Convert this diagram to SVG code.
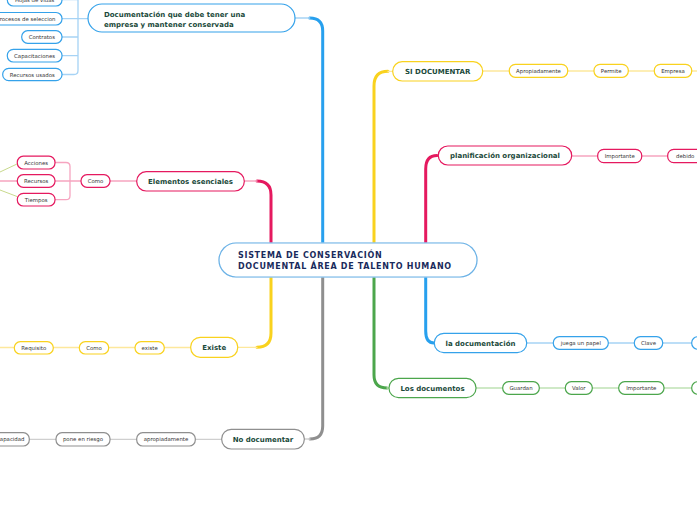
<svg xmlns="http://www.w3.org/2000/svg" width="697" height="520" viewBox="0 0 697 520">
<defs>
<marker id="arr" markerWidth="6" markerHeight="6" refX="5" refY="3" orient="auto" markerUnits="userSpaceOnUse"><path d="M0,0 L6,3 L0,6 z" fill="#c8d98c"/></marker>
<style>
.t{font-family:"DejaVu Sans",Verdana,sans-serif;font-weight:bold;font-size:7px;fill:#1b4a3b}
.s{font-family:"DejaVu Sans",Verdana,sans-serif;font-size:5.4px;fill:#333}
.c{font-family:"DejaVu Sans",Verdana,sans-serif;font-weight:bold;font-size:8px;fill:#1a2b5c;letter-spacing:0.7px}
rect{fill:#fff;stroke-width:1.2}
.b{stroke:#35a2ea}.p{stroke:#e5195f}.y{stroke:#f9d21e}.g{stroke:#4ca64c}.k{stroke:#8f8f8f}
path{fill:none;stroke-linecap:round}
.bd{stroke:#27a0ee;stroke-width:3}.pd{stroke:#e5195f;stroke-width:3}.yd{stroke:#f9d21e;stroke-width:3}.gd{stroke:#4ca64c;stroke-width:3}.kd{stroke:#8f8f8f;stroke-width:3}
.bl{stroke:#a6d3f5;stroke-width:1.3}.pl{stroke:#f6a5c0;stroke-width:1.3}.yl{stroke:#fde89c;stroke-width:1.3}.gl{stroke:#bfe2b4;stroke-width:1.3}.kl{stroke:#cfcfcf;stroke-width:1.3}
</style>
</defs>
<g id="connectors">
<path class="bd" d="M322.7,244 V31 Q322.7,18 309.7,18"/><path class="bl" d="M309.7,18 H295"/>
<path class="pd" d="M271,244 V195 Q271,181 257,181"/><path class="pl" d="M257,181 H244"/>
<path class="yd" d="M374,244 V86 Q374,71.3 388,71.3"/><path class="yl" d="M388,71.3 H392.7"/>
<path class="pd" d="M425.7,244 V169 Q425.7,155.5 437,155.5"/>
<path class="yd" d="M271,276 V333 Q271,347.3 257,347.3"/><path class="yl" d="M257,347.3 H238"/>
<path class="kd" d="M322.7,276 V426 Q322.7,439 310,439"/><path class="kl" d="M310,439 H304.3"/>
<path class="gd" d="M374,276 V375 Q374,388 387,388"/><path class="gl" d="M387,388 H389"/>
<path class="bd" d="M425.7,276 V331 Q425.7,343 434,343"/>
<path class="bl" d="M78,-2 V70.5 Q78,74.5 74,74.5 H62 M62,18.7 H88 M62,37 H78 M62,55.7 H78 M62,-0.3 H78"/>
<path class="pl" d="M55,162.5 H66 Q70,162.5 70,166.5 V195.7 Q70,199.7 66,199.7 H55 M55,181 H81 M110,181 H137"/>
<path class="pl" d="M0,181 H17"/>
<path d="M0,172 L17,164" stroke="#c8d98c" stroke-width="1" marker-end="url(#arr)"/>
<path d="M0,190 L17,196.5" stroke="#c8d98c" stroke-width="1" marker-end="url(#arr)"/>
<path class="yl" d="M0,347.5 H191"/>
<path class="kl" d="M0,439.3 H222"/>
<path class="yl" d="M482.7,71 H697"/>
<path class="pl" d="M571.7,156 H697"/>
<path class="bl" d="M526.7,343 H697"/>
<path class="gl" d="M476,388 H697"/>
</g>
<g id="central">
<rect x="219" y="243" width="258" height="34" rx="17" stroke="#d3e8f8" stroke-width="3.5"/>
<rect x="219" y="243" width="258" height="34" rx="17" stroke="#6cb2e6" stroke-width="1.2"/>
<text class="c" x="238" y="258">SISTEMA DE CONSERVACIÓN</text>
<text class="c" x="238" y="268.5">DOCUMENTAL ÁREA DE TALENTO HUMANO</text>
</g>
<g id="documentacion">
<rect class="b" x="88" y="4" width="207" height="28" rx="14"/>
<text class="t" x="104" y="17.3">Documentación que debe tener una</text>
<text class="t" x="104" y="26.7">empresa y mantener conservada</text>
</g>
<g id="hojas"><rect class="b" x="7.3" y="-6.5" width="54.7" height="12.5" rx="6"/><text class="s" x="34.6" y="1.6" text-anchor="middle">Hojas de vidas</text></g>
<g id="procesos"><rect class="b" x="-8" y="12.5" width="70" height="12.5" rx="6"/><text class="s" x="55.5" y="20.7" text-anchor="end">Procesos de seleccion</text></g>
<g id="contratos"><rect class="b" x="21.7" y="30.7" width="40.3" height="12.6" rx="6"/><text class="s" x="41.8" y="39" text-anchor="middle">Contratos</text></g>
<g id="capacitaciones"><rect class="b" x="7.3" y="49.3" width="54.7" height="12.7" rx="6"/><text class="s" x="34.6" y="57.6" text-anchor="middle">Capacitaciones</text></g>
<g id="recursos-usados"><rect class="b" x="2.7" y="68.3" width="59.3" height="12.4" rx="6"/><text class="s" x="32.3" y="76.5" text-anchor="middle">Recursos usados</text></g>
<g id="elementos"><rect class="p" x="136.7" y="171.7" width="107.6" height="19.3" rx="9.5"/><text class="t" x="190.5" y="183.8" text-anchor="middle">Elementos esenciales</text></g>
<g id="como1"><rect class="p" x="81" y="174.7" width="29" height="12.6" rx="6"/><text class="s" x="95.5" y="183" text-anchor="middle">Como</text></g>
<g id="acciones"><rect class="p" x="17.3" y="156.2" width="37.7" height="12.8" rx="6"/><text class="s" x="36.2" y="164.6" text-anchor="middle">Acciones</text></g>
<g id="recursos"><rect class="p" x="17.3" y="174.7" width="37.7" height="12.6" rx="6"/><text class="s" x="36.2" y="183" text-anchor="middle">Recursos</text></g>
<g id="tiempos"><rect class="p" x="17.3" y="193.3" width="37.7" height="12.7" rx="6"/><text class="s" x="36.2" y="201.6" text-anchor="middle">Tiempos</text></g>
<g id="existe"><rect class="y" x="190.7" y="337.3" width="47" height="20" rx="9.5"/><text class="t" x="214.2" y="350" text-anchor="middle">Existe</text></g>
<g id="existe2"><rect class="y" x="135" y="341.7" width="29.3" height="12.3" rx="6"/><text class="s" x="149.7" y="349.8" text-anchor="middle">existe</text></g>
<g id="como2"><rect class="y" x="79.3" y="341.7" width="29.4" height="12.3" rx="6"/><text class="s" x="94" y="349.8" text-anchor="middle">Como</text></g>
<g id="requisito"><rect class="y" x="14.3" y="341.7" width="39" height="12.3" rx="6"/><text class="s" x="33.8" y="349.8" text-anchor="middle">Requisito</text></g>
<g id="no-documentar"><rect class="k" x="221.7" y="429.3" width="82.6" height="19.7" rx="9.5"/><text class="t" x="263" y="441.8" text-anchor="middle">No documentar</text></g>
<g id="apropiadamente2"><rect class="k" x="136.7" y="432.7" width="58.6" height="13.3" rx="6"/><text class="s" x="166" y="441.3" text-anchor="middle">apropiadamente</text></g>
<g id="pone"><rect class="k" x="56" y="432.7" width="54" height="13.3" rx="6"/><text class="s" x="83" y="441.3" text-anchor="middle">pone en riesgo</text></g>
<g id="capacidad"><rect class="k" x="-16" y="432.7" width="45.3" height="13.3" rx="6"/><text class="s" x="24.5" y="441.3" text-anchor="end">capacidad</text></g>
<g id="si-documentar"><rect class="y" x="392.7" y="61.7" width="90" height="19.3" rx="9.5"/><text class="t" x="437.7" y="73.8" text-anchor="middle">SI DOCUMENTAR</text></g>
<g id="apropiadamente"><rect class="y" x="509.3" y="64.3" width="58.4" height="13" rx="6"/><text class="s" x="538.5" y="72.8" text-anchor="middle">Apropiadamente</text></g>
<g id="permite"><rect class="y" x="594" y="64.3" width="34.3" height="13" rx="6"/><text class="s" x="611.2" y="72.8" text-anchor="middle">Permite</text></g>
<g id="empresa"><rect class="y" x="654.3" y="64.3" width="37.4" height="13" rx="6"/><text class="s" x="673" y="72.8" text-anchor="middle">Empresa</text></g>
<g id="planificacion"><rect class="p" x="438.3" y="146" width="133.4" height="19" rx="9.5"/><text class="t" x="505" y="158.2" text-anchor="middle">planificación organizacional</text></g>
<g id="importante1"><rect class="p" x="597.7" y="149.3" width="44" height="13.4" rx="6"/><text class="s" x="619.7" y="157.9" text-anchor="middle">Importante</text></g>
<g id="debido"><rect class="p" x="667.7" y="149.3" width="40" height="13.4" rx="6"/><text class="s" x="676" y="157.9">debido</text></g>
<g id="la-documentacion"><rect class="b" x="434.3" y="333.3" width="92.4" height="19.4" rx="9.5"/><text class="t" x="480.5" y="345.5" text-anchor="middle">la documentación</text></g>
<g id="juega"><rect class="b" x="553.3" y="336.7" width="55" height="12.6" rx="6"/><text class="s" x="580.8" y="345" text-anchor="middle">juega un papel</text></g>
<g id="clave"><rect class="b" x="634.3" y="336.7" width="28.4" height="12.6" rx="6"/><text class="s" x="648.5" y="345" text-anchor="middle">Clave</text></g>
<g id="next-blue"><rect class="b" x="691.7" y="336.7" width="40" height="12.6" rx="6"/></g>
<g id="los-documentos"><rect class="g" x="389" y="378.3" width="87" height="19.4" rx="9.5"/><text class="t" x="432.5" y="390.6" text-anchor="middle">Los documentos</text></g>
<g id="guardan"><rect class="g" x="502.7" y="381.7" width="36.6" height="12.6" rx="6"/><text class="s" x="521" y="390" text-anchor="middle">Guardan</text></g>
<g id="valor"><rect class="g" x="565.3" y="381.7" width="27" height="12.6" rx="6"/><text class="s" x="578.8" y="390" text-anchor="middle">Valor</text></g>
<g id="importante2"><rect class="g" x="618.7" y="381.7" width="45.3" height="12.6" rx="6"/><text class="s" x="641.3" y="390" text-anchor="middle">Importante</text></g>
<g id="next-green"><rect class="g" x="691.7" y="381.7" width="40" height="12.6" rx="6"/></g>
</svg>
